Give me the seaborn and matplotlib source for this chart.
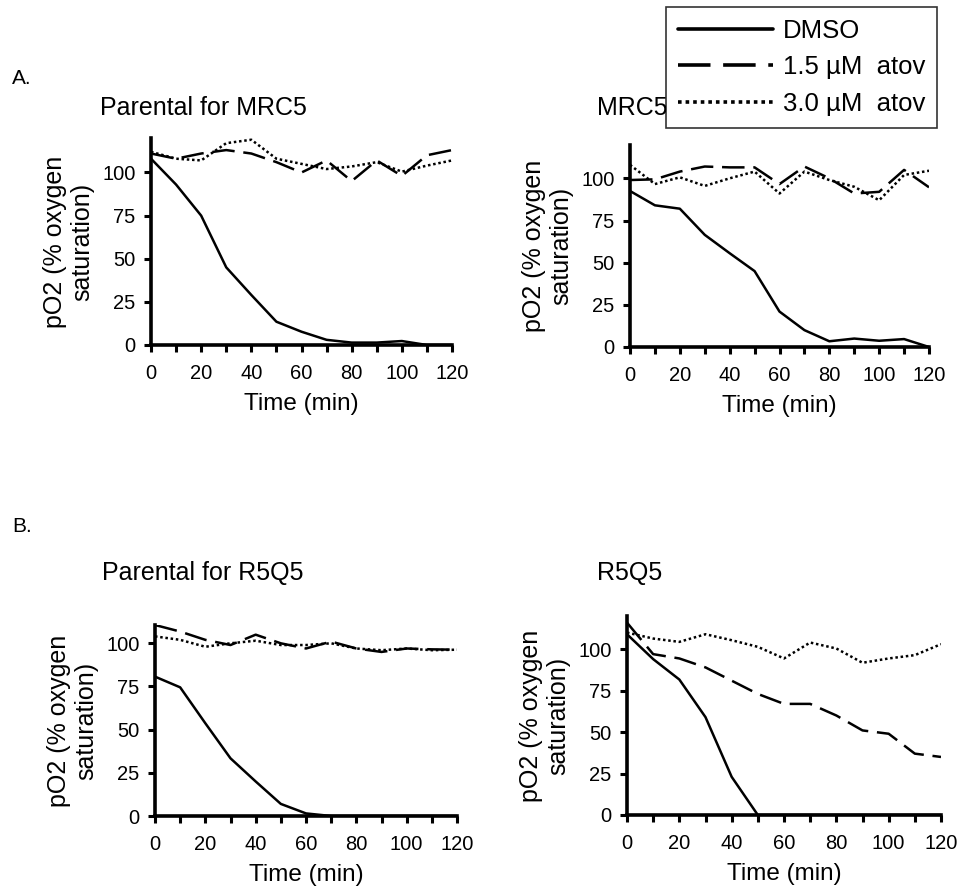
import numpy as np
import pandas as pd
import matplotlib
matplotlib.use("Agg")
import matplotlib.pyplot as plt
from matplotlib.ticker import MultipleLocator, FixedLocator
import seaborn as sns

sns.set_theme(style="ticks")
plt.rcParams['font.family'] = ['Liberation Sans', 'DejaVu Sans']
plt.rcParams['text.color'] = 'black'
plt.rcParams['axes.labelcolor'] = 'black'
plt.rcParams['xtick.color'] = 'black'
plt.rcParams['ytick.color'] = 'black'

# ---------------- data ----------------
time_min = [0, 10, 20, 30, 40, 50, 60, 70, 80, 90, 100, 110, 120]
treatments = ["DMSO", "1.5 µM  atov", "3.0 µM  atov"]

par_mrc5_dmso = [108, 93, 75, 45, 29, 13.5, 7.7, 3, 1.4, 1.4, 2.3, 0, 0]
par_mrc5_15 = [111, 108, 111, 113, 111, 106, 100, 107, 95, 107, 98, 110, 113]
par_mrc5_30 = [112, 108, 107, 117, 119, 108, 105, 102, 103.5, 106, 100.5, 104, 107]

mrc5_dmso = [92.5, 84, 82, 66.5, 55.6, 45, 21, 10, 3.4, 5, 3.7, 4.7, 0]
mrc5_15 = [99, 99.4, 104, 107, 106.5, 106.5, 96.6, 107, 100, 91, 92, 105, 94.7]
mrc5_30 = [108, 96.6, 100.6, 95.5, 100, 104, 91, 104, 99, 95, 87, 102, 104.5]

par_r5q5_dmso = [80.7, 74.5, 53.7, 33.4, 20, 7, 1.5, 0, 0, 0, 0, 0, 0]
par_r5q5_15 = [110.6, 106.8, 102, 99, 105, 100, 97, 101, 97, 95, 97, 96.5, 96.3]
par_r5q5_30 = [104, 102, 98, 100, 101.5, 99, 99, 100, 97, 96, 97, 96, 96.3]

r5q5_dmso = [109, 94, 81.7, 59, 23, 0, 0, 0, 0, 0, 0, 0, 0]
r5q5_15 = [116, 97, 94.4, 89, 81, 73, 67, 67, 60, 51, 49, 37, 35]
r5q5_30 = [110, 106.4, 104.4, 109, 105.4, 101.4, 94.4, 104, 100.4, 91.8, 94.4, 96.4, 103]

panel_titles = ["Parental for MRC5", "MRC5", "Parental for R5Q5", "R5Q5"]
panel_data = [
    (par_mrc5_dmso, par_mrc5_15, par_mrc5_30),
    (mrc5_dmso, mrc5_15, mrc5_30),
    (par_r5q5_dmso, par_r5q5_15, par_r5q5_30),
    (r5q5_dmso, r5q5_15, r5q5_30),
]
x_ticks = [0, 20, 40, 60, 80, 100, 120]
y_ticks = [0, 25, 50, 75, 100]

# ---------------- layout ----------------
W, H = 972, 893
fig = plt.figure(figsize=(W / 100, H / 100), dpi=100)

def px_axes(x0, x1, ytop, ybot):
    return [x0 / W, 1 - ybot / H, (x1 - x0) / W, (ybot - ytop) / H]

axes_rects = [
    px_axes(151, 452, 138, 345),
    px_axes(630, 929, 144.6, 347),
    px_axes(155, 457, 625, 816),
    px_axes(627, 941, 616, 815),
]
ylims = [(0, 120), (0, 120), (0, 110.6), (0, 120)]

dash_map = {treatments[0]: "", treatments[1]: (9, 3.5), treatments[2]: (1, 1.1)}

handles = None
for i, (rect, series) in enumerate(zip(axes_rects, panel_data)):
    ax = fig.add_axes(rect)
    df = pd.DataFrame({
        "Time": np.tile(time_min, 3),
        "pO2": np.concatenate(series),
        "Treatment": np.repeat(treatments, len(time_min)),
    })
    sns.lineplot(data=df, x="Time", y="pO2", style="Treatment",
                 style_order=treatments, dashes=dash_map, color="black",
                 linewidth=1.8, ax=ax, legend=(i == 0))
    if i == 0:
        handles, labels = ax.get_legend_handles_labels()
        ax.get_legend().remove()
    ax.set_xlim(0, 120)
    ax.set_ylim(*ylims[i])
    ax.xaxis.set_major_locator(FixedLocator(x_ticks))
    ax.xaxis.set_minor_locator(MultipleLocator(10))
    ax.yaxis.set_major_locator(FixedLocator(y_ticks))
    ax.set_xlabel("Time (min)", fontsize=17.5, labelpad=7)
    ax.set_ylabel("pO2 (% oxygen\nsaturation)", fontsize=18, labelpad=6,
                  linespacing=1.15)
    ax.tick_params(axis="both", which="both", direction="out", length=5,
                   width=2.2, colors="black", labelsize=14.5)
    ax.tick_params(axis="x", which="both", pad=9)
    ax.tick_params(axis="y", which="both", pad=6)
    for s in ["top", "right"]:
        ax.spines[s].set_visible(False)
    for s in ["left", "bottom"]:
        ax.spines[s].set_linewidth(2.6)
        ax.spines[s].set_color("black")
        ax.spines[s].set_capstyle("projecting")
    ax.grid(False)

# titles and panel letters
fig.text(100 / W, 1 - 108 / H, panel_titles[0], fontsize=18, va="center", ha="left")
fig.text(597 / W, 1 - 108 / H, panel_titles[1], fontsize=18, va="center", ha="left")
fig.text(102 / W, 1 - 573 / H, panel_titles[2], fontsize=18, va="center", ha="left")
fig.text(597 / W, 1 - 573 / H, panel_titles[3], fontsize=18, va="center", ha="left")
fig.text(12 / W, 1 - 79 / H, "A.", fontsize=15, va="center", ha="left")
fig.text(12 / W, 1 - 527 / H, "B.", fontsize=15, va="center", ha="left")

leg = fig.legend(handles, labels, loc="upper right",
                 bbox_to_anchor=(937 / W, 1 - 7 / H), borderaxespad=0,
                 fontsize=18.5, handlelength=3.7, handletextpad=0.4,
                 labelspacing=0.5, borderpad=0.45, fancybox=False, frameon=True)
leg.get_frame().set_edgecolor("black")
leg.get_frame().set_linewidth(1.2)
for ln in leg.get_lines():
    ln.set_linewidth(2.6)

fig.savefig("out.png", dpi=100)
